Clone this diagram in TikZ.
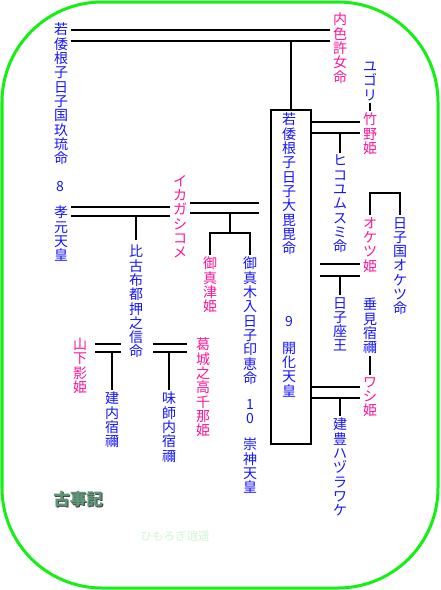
\documentclass[tikz,border=0pt]{standalone}
\usepackage{fontspec}
\usepackage{xcolor}
\usepackage{tikz}
\usetikzlibrary{calc}
\newfontfamily\jp{Noto Sans CJK JP}
\definecolor{manblue}{RGB}{20,20,255}
\definecolor{womanpink}{RGB}{255,20,150}
\definecolor{framegreen}{RGB}{20,240,20}
\definecolor{titlegreen}{RGB}{95,150,120}
\definecolor{palegreen}{RGB}{205,245,205}

% vertical text: one character per line
\newcommand\tate[1]{\tateA#1\tateEnd}
\def\tateEnd{}
\def\tateA#1{#1\tateB}
\def\tateB#1{\ifx#1\tateEnd\else\\#1\expandafter\tateB\fi}

\begin{document}
\begin{tikzpicture}[
    x=1pt, y=-1pt,
    tatebox/.style={font=\jp\fontsize{14}{14.3}\selectfont, align=center, inner sep=0pt, anchor=north},
    man/.style={tatebox, text=manblue},
    woman/.style={tatebox, text=womanpink},
    num/.style={font=\jp\fontsize{14}{14.3}\selectfont, inner sep=0pt, text=manblue},
    line/.style={line width=2.5pt},
    couple/.style={line, shorten <=#1, shorten >=3pt},
    couple/.default=2.5pt,
]
\useasboundingbox (0,0) rectangle (440,590);
\draw[framegreen, line width=3pt, rounded corners=100pt] (2,2) rectangle (438,588);

% --- 8 Kogen ---
\node[man] (wakayamato) at (61,23) {\tate{若倭根子日子国玖琉命}};
\node[num] (num8) at (60,187) {8};
\node[man] (kogen) at (61,206) {\tate{孝元天皇}};
\node[woman] (naishiko) at (340,13) {\tate{内色許女命}};
\node[woman] (ikagashikome) at (180,175) {\tate{イカガシコメ}};

% --- 9 Kaika ---
\node[draw, line width=2.5pt, minimum width=40pt, minimum height=334pt, inner sep=0pt] (kaika) at (291,277) {};
\node[man] (ohbibi) at (289,113) {\tate{若倭根子日子大毘毘命}};
\node[num] (num9) at (289,322) {9};
\node[man] (kaikaname) at (289,342) {\tate{開化天皇}};

\node[man] (yugori) at (370,62) {\tate{ユゴリ}};
\node[woman] (takeno) at (370,113) {\tate{竹野姫}};
\node[man] (hikoyumusumi) at (340,155) {\tate{ヒコユムスミ命}};
\node[woman] (oketsuhime) at (370,217) {\tate{オケツ姫}};
\node[man] (hikokuni) at (400,217) {\tate{日子国オケツ命}};
\node[man] (hikoimasu) at (340,297) {\tate{日子座王}};
\node[man] (tarumi) at (370,298) {\tate{垂見宿禰}};
\node[woman] (washi) at (370,377) {\tate{ワシ姫}};
\node[man] (takeotoyo) at (340,418) {\tate{建豊ハヅラワケ}};

% --- children of Kogen ---
\node[man] (hikofutsu) at (136,245) {\tate{比古布都押之信命}};
\node[woman] (mimatsu) at (210,257) {\tate{御真津姫}};
\node[man] (mimaki) at (250,257) {\tate{御真木入日子印恵命}};
\node[num, anchor=north, align=center] (num10) at (250,399) {\tate{10}};
\node[man] (sujin) at (250,438) {\tate{崇神天皇}};
\node[woman] (yamashita) at (80,338) {\tate{山下影姫}};
\node[man] (takeuchi) at (112,392) {\tate{建内宿禰}};
\node[woman] (katsuragi) at (203,338) {\tate{葛城之高千那姫}};
\node[man] (umashi) at (169,392) {\tate{味師内宿禰}};

% --- titles ---
\node[font=\jp\bfseries\fontsize{16.5}{18}\selectfont, text=black!75, inner sep=0pt] (kojikishade) at (79,500) {古事記};
\node[font=\jp\bfseries\fontsize{16.5}{18}\selectfont, text=titlegreen, inner sep=0pt] (kojiki) at (78,499) {古事記};
\node[font=\jp\fontsize{11.5}{12}\selectfont, text=palegreen, inner sep=0pt] (himorogi) at (175,536) {ひもろぎ逍遥};

% --- marriage rows ---
\coordinate (top1) at (0,30);   \coordinate (top2) at (0,41);
\coordinate (tk1) at (0,122);   \coordinate (tk2) at (0,133);
\coordinate (ok1) at (0,264);   \coordinate (ok2) at (0,276);
\coordinate (ws1) at (0,387);   \coordinate (ws2) at (0,398);
\coordinate (ik1) at (0,207);   \coordinate (ik2) at (0,216);
\coordinate (ka1) at (0,203);   \coordinate (ka2) at (0,213);
\coordinate (hf1) at (0,344);   \coordinate (hf2) at (0,352);

% Kogen x Utsushikome
\draw[couple] (wakayamato.east |- top1) -- (naishiko.west |- top1);
\draw[couple] (wakayamato.east |- top2) -- (naishiko.west |- top2);
\draw[line] (kaika.north) -- (kaika.north |- top2);

% Kaika and his wives
\draw[couple=0pt] (kaika.east |- tk1) -- (takeno.west |- tk1);
\draw[couple=0pt] (kaika.east |- tk2) -- (takeno.west |- tk2);
\draw[line, shorten <=2pt] (hikoyumusumi.north) -- (hikoyumusumi.north |- tk2);
\draw[line, shorten <=2pt, shorten >=2pt] (yugori.south) -- (takeno.north);

\draw[line, shorten <=2pt, shorten >=2pt] (oketsuhime.north) -- ++(0,-24) -| (hikokuni.north);
\draw[couple=8pt] (kaika.east |- ok1) -- (oketsuhime.west |- ok1);
\draw[couple=8pt] (kaika.east |- ok2) -- (oketsuhime.west |- ok2);
\draw[line, shorten <=2pt] (hikoimasu.north) -- (hikoimasu.north |- ok2);

\draw[line, shorten <=2pt, shorten >=2pt] (tarumi.south) -- (washi.north);
\draw[couple=0pt] (kaika.east |- ws1) -- (washi.west |- ws1);
\draw[couple=0pt] (kaika.east |- ws2) -- (washi.west |- ws2);
\draw[line, shorten <=2pt] (takeotoyo.north) -- (takeotoyo.north |- ws2);

% Kogen x Ikagashikome
\draw[couple=3pt] (kogen.east |- ik1) -- (ikagashikome.west |- ik1);
\draw[couple=3pt] (kogen.east |- ik2) -- (ikagashikome.west |- ik2);
\draw[line, shorten <=5pt] (hikofutsu.north) -- (hikofutsu.north |- ik2);

% Kaika x Ikagashikome
\draw[line, shorten <=3pt, shorten >=11pt] (ikagashikome.east |- ka1) -- (kaika.west |- ka1);
\draw[line, shorten <=3pt, shorten >=11pt] (ikagashikome.east |- ka2) -- (kaika.west |- ka2);
\coordinate (kfork) at ($(mimatsu.north)!0.5!(mimaki.north)+(0,-24)$);
\draw[line] (kfork) -- (kfork |- ka2);
\draw[line, shorten <=2pt, shorten >=2pt] (mimatsu.north) |- (kfork) -| (mimaki.north);

% Hikofutsuoshinomakoto and his wives
\draw[line, shorten <=8pt, shorten >=8pt] (yamashita.east |- hf1) -- (hikofutsu.west |- hf1);
\draw[line, shorten <=8pt, shorten >=8pt] (yamashita.east |- hf2) -- (hikofutsu.west |- hf2);
\draw[line, shorten <=2pt] (takeuchi.north) -- (takeuchi.north |- hf2);
\draw[line, shorten <=10pt, shorten >=9pt] (hikofutsu.east |- hf1) -- (katsuragi.west |- hf1);
\draw[line, shorten <=10pt, shorten >=9pt] (hikofutsu.east |- hf2) -- (katsuragi.west |- hf2);
\draw[line, shorten <=2pt] (umashi.north) -- (umashi.north |- hf2);

\end{tikzpicture}
\end{document}
